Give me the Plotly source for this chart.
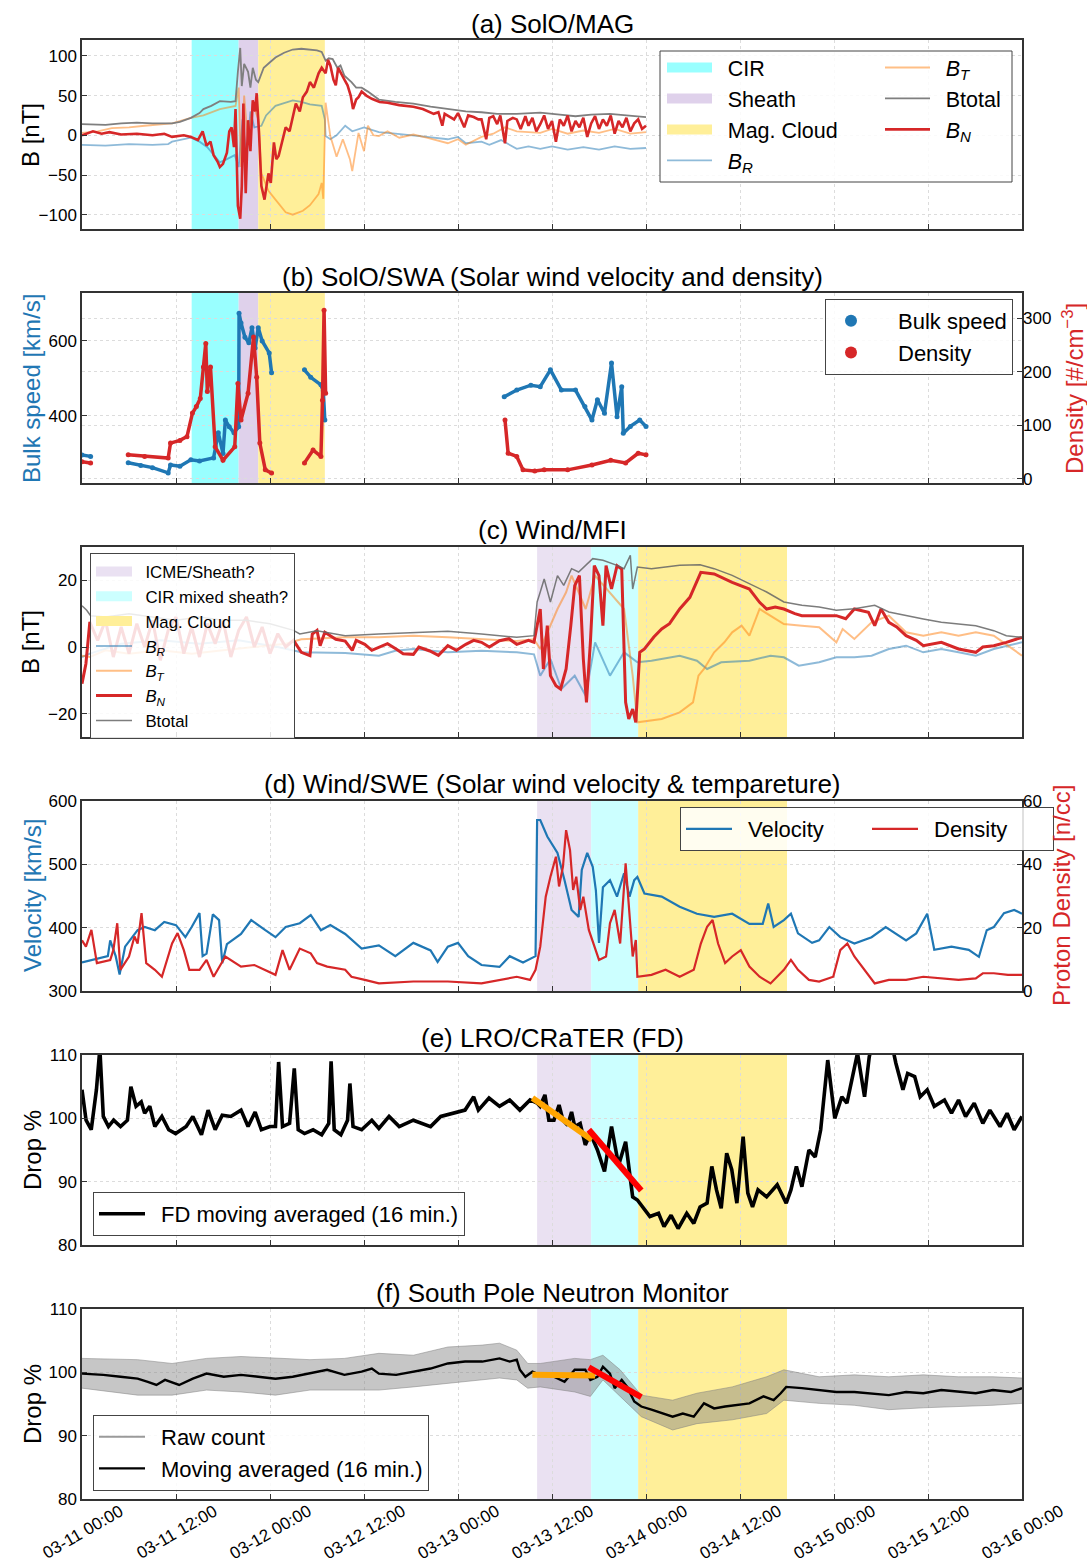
import pandas as pd
import plotly.graph_objects as go

W, H = 1087, 1562
T0 = pd.Timestamp("2025-03-11 00:00")
FONT = "Liberation Sans, Arial, sans-serif"

# ---------------- data: (hours since 03-11 00:00, value) ----------------
# (a) SolO/MAG [nT]
SOLO_BR = [(0,-12),(3,-13),(6,-11),(9,-12),(11,-11),(11.5,-8),(13.9,-3),(15,-8),(16,-15),(17.6,-34),(18.5,-30),
           (19.5,-25),(20,-40),(20.5,20),(21,-30),(21.5,30),(22,10),(22.9,12),(23.5,25),(24.7,37),(26.9,44),(28,42),
           (29.1,39),(30.6,37),(31,20),(31.1,-1),(31.7,-5),(32.5,0),(33.6,12),(34.5,5),(36,10),(37.9,4),(40,2),
           (42.3,0),(44,-2),(46.7,-5),(48,-2),(49,-10),(51,-8),(52,-12),(53.5,-6),(55.5,-17),(57,-14),(58.5,-17),
           (60,-14),(62,-18),(64,-15),(66,-18),(68,-14),(70,-17),(72,-16)]
SOLO_BT = [(0,3),(2,5),(3.8,9),(6,10),(8,12),(11.5,15),(13.9,22),(15.5,25),(17.6,33),(19.6,37),(20,60),(20.3,-40),
           (20.7,50),(21.2,-10),(21.8,40),(22.5,20),(22.9,-48),(23.8,-70),(24.7,-81),(26,-97),(26.9,-100),(28.2,-95),
           (29.1,-88),(30.2,-74),(30.6,-60),(30.8,-80),(31.1,41),(31.7,-1),(32.5,-27),(33.3,-5),(34.2,-30),(34.5,-45),
           (35.3,3),(36,-20),(36.5,12),(37.2,0),(37.9,-1),(39,5),(40.5,-3),(42.3,1),(44,-3),(46.7,-10),(48,-5),
           (49,-12),(51,-2),(52.5,2),(54,10),(55.5,5),(58.5,3),(60,8),(62,2),(64,6),(66,3),(68,8),(70,2),(72,4)]
SOLO_BTOT = [(0,14),(3,13),(5,15),(7,16),(9,15),(11.5,15),(12.5,17),(13.9,22),(15,28),(15.5,33),(16.5,37),(17.6,43),
             (19,42),(19.6,43),(19.9,80),(20.2,110),(20.4,62),(20.7,90),(21.2,80),(21.5,60),(21.8,85),(22.2,70),
             (22.5,67),(23.2,85),(24,92),(24.7,98),(25.8,104),(26.9,108),(28,109),(29.1,108),(30,107),(30.6,105),
             (31.1,94),(31.5,97),(32,96),(32.6,85),(33,88),(33.5,75),(34.4,67),(35,60),(35.7,60),(36.5,55),(37.9,45),
             (40,42),(42.3,40),(44.5,36),(46.7,33),(49,30),(51,29),(53,27),(55.5,27),(58.5,28.5),(61,26),(63,24),
             (65,26),(67.4,27),(69.5,25),(71.8,23.5),(72,23)]
SOLO_BN = [(0,0),(0.7,3),(1.4,5),(2.5,2),(3.5,4),(5,1),(7,2),(9,0),(10.5,2),(11.5,-2),(13,0),(13.9,-2),(14.8,-6),
           (15.4,5),(15.9,-13),(16.4,-8),(16.8,-25),(17.3,-33),(17.6,-40),(18,-36),(18.5,-22),(18.8,5),(19.1,10),
           (19.4,-15),(19.6,33),(19.9,-89),(20.2,-105),(20.4,-64),(20.6,40),(20.9,-73),(21.2,19),(21.5,-20),(21.8,44),
           (22.1,30),(22.3,53),(22.6,3),(22.9,-64),(23.3,-81),(23.8,-48),(24.1,-60),(24.5,-9),(24.8,-30),(25.1,-26),
           (25.5,-10),(26,10),(26.5,5),(27.3,40),(27.8,30),(28.2,48),(28.7,55),(29.1,67),(29.6,60),(30.2,78),
           (30.6,85),(31.1,78),(31.4,95),(31.7,88),(32.1,70),(32.4,63),(32.7,85),(33,80),(33.5,70),(33.9,63),
           (34.3,50),(34.6,33),(35,45),(35.3,48),(35.7,55),(36.3,50),(37,46),(38,42),(39,41),(40.5,38),(42.3,36),
           (43.5,33),(44.9,27),(45.5,29),(46,12),(46.3,27),(46.7,25),(47.5,20),(48,28),(48.8,10),(49.3,25),(50,23),
           (50.6,20),(51,20),(51.6,-5),(52,22),(52.5,24),(53,14),(53.4,25),(54,-10),(54.3,18),(55,22),(55.5,20),
           (56,8),(56.6,24),(57,12),(57.5,22),(58,5),(58.5,14),(59,25),(59.5,8),(60,18),(60.5,-8),(61,20),(61.5,12),
           (62,25),(62.5,5),(63,18),(63.5,10),(64,22),(64.5,-2),(65,15),(65.5,24),(66,8),(66.5,20),(67,12),(67.5,25),
           (68,2),(68.5,18),(69,10),(69.5,22),(70,5),(70.5,15),(71,20),(71.5,8),(72,12)]

# (b) SolO/SWA: bulk speed [km/s], density [#/cm^3]; None = data gap
SOLO_V = [(0,296),(1.1,292),None,(5.9,275),(7.5,268),(9,262),(11,248),(11.3,269),(12.5,266),(13.9,283),(15,280),
          (16.8,288),(17.4,355),(18,300),(18.3,389),(18.8,371),(19.4,355),(20,371),(20.05,674),(20.3,648),(20.8,610),
          (21.3,595),(21.7,635),(22.1,581),(22.5,635),(23,600),(23.9,568),(24.2,515),None,(28.4,523),(29.2,503),
          (30.5,483),(30.8,467),(31,389),None,(53.9,451),(55.5,469),(57.3,482),(58.5,478),(59.8,523),(61.2,469),
          (63,469),(64.2,425),(65.1,389),(65.8,443),(66.7,407),(67.6,541),(68.3,398),(68.9,478),(69.1,354),(70,372),
          (71.2,389),(72,372)]
SOLO_N = [(0,32),(1.1,30),None,(5.9,45),(8,42),(11,39),(11.3,67),(12.5,72),(13.4,79),(14.1,123),(14.6,135),
          (15.1,150),(15.5,209),(15.8,253),(16,163),(16.4,209),(17,60),(18,35),(19.5,60),(19.9,178),(20.3,110),
          (21.2,160),(21.9,265),(22.3,190),(22.7,67),(23.4,17),(24.2,11),None,(28.4,30),(29.5,54),(30.5,42),
          (30.7,147),(30.9,315),(31.1,160),None,(54,110),(54.4,48),(55.5,42),(56.3,17),(57.8,15),(59,17),(62,17),
          (65.1,26),(67.5,35),(69.4,30),(71,48),(72,45)]

# (c) Wind/MFI [nT]
WIND_BR = [(0,-3),(1,-2),(5,1),(10,2),(15,1),(20,2),(25,0),(28,-1.6),(33.6,-1.8),(37.9,-2.6),(40,-1.1),(42.3,-0.6),
           (46.7,-1.6),(51,-1.1),(55.5,-1.6),(57.7,-2.2),(58.5,-8.6),(59.8,-3.6),(61.2,-12.6),(62.9,-8.6),
           (64.3,-14.6),(65.5,1.4),(67.4,-8.6),(69.2,-1.6),(70.9,-4.6),(72.7,-4.1),(76.3,-2.6),(78.5,-4.1),
           (79.8,-6.6),(81.6,-4.6),(85.2,-4.1),(87.9,-2.6),(89.6,-3.1),(91.5,-5.6),(94.1,-4.6),(96.3,-3.1),
           (98.6,-3.1),(100.8,-2.6),(103,-0.6),(105.2,0.4),(107.4,-1.6),(109.7,-0.6),(111.9,-1.6),(114.1,-2.6),
           (116.4,-0.6),(120,1.4)]
WIND_BT = [(0,-2.6),(1,-3),(3,-1),(6,-2),(10,-1),(14,-2),(18,-1),(22,0),(26,1),(28,2.3),(33.6,2.9),(37.9,2.9),
           (42.3,3.4),(46.7,2.9),(51,2.3),(55.5,1.8),(57.7,2.3),(58.5,-0.6),(60.7,11.4),(61.8,16.4),(62.5,21.4),
           (64.3,11.4),(65.5,21.4),(67.4,16.4),(69.2,11.4),(70.3,-8.6),(70.9,-22.6),(74,-21.6),(76.3,-19.6),
           (78,-16.6),(78.7,-8.6),(79.4,-6.6),(80.7,-1.6),(82,1.4),(83,4.4),(84.2,6.4),(85.2,3.4),(86.5,11.4),
           (87.9,9.4),(89.6,6.9),(91.9,6.4),(94.1,5.9),(96.3,1.4),(97.1,5.4),(98.6,2.4),(100.8,7.4),(103,9.4),
           (105.2,4.4),(107.4,3.4),(109.7,4.4),(111.9,3.4),(114.1,4.4),(116.4,3.4),(120,-2.6)]
WIND_BN = [(0,-11),(0.5,-5),(1,7.5),(2,2),(3,8),(4,-3),(5,6),(6,-2),(7,7),(8,0),(9,8),(10,-4),(11,5),(12,9),
           (13,-2),(14,6),(15,-3),(16,7),(17,1),(18,8),(19,-3),(20,5),(21,9),(22,0),(23,6),(24,-2),(25,4),(26,0),
           (27,2),(28,-1.6),(29.1,-2.6),(29.4,3.9),(30,5),(30.4,0.4),(31,4.4),(32.4,2.3),(33.6,1.8),(34.5,-1),
           (35,2),(36.1,0.8),(37,-1),(37.9,-0.2),(39,1),(40.1,-0.6),(41,-2),(42.3,-2.2),(43,0),(44.4,-1.2),
           (45.5,-2.5),(46.7,0.4),(47.8,-1),(49,0.8),(50,2),(51,1.4),(52,0),(53.3,1.9),(54.5,2.5),(55.5,0.8),
           (57,2),(57.7,1.4),(58.5,11.4),(58.9,-6.6),(59.4,6.4),(59.8,-8.6),(60.5,-11.6),(61.1,-12.6),(61.8,-6.6),
           (62.4,6.4),(62.9,18.4),(63.5,21.4),(64,-3.6),(64.4,-16.6),(64.9,1.4),(65.4,24.4),(66,21.4),(66.5,6.4),
           (66.9,24.4),(67.6,17.4),(68.3,24.4),(68.9,23.4),(69.4,-16.6),(69.8,-21.6),(70.3,-18.6),(70.7,-22.6),
           (71.2,-1.6),(71.8,-0.6),(73,3),(74,5.4),(75,7),(76.3,11.4),(77.6,14.9),(79,22.4),(80.7,21.9),(83,19.4),
           (85.2,17.4),(86.5,13.4),(87.4,11.4),(88.5,12),(89.6,11.4),(91,10),(91.9,9.4),(94.1,9.4),(96.3,9.4),
           (97.5,8.5),(98.6,11.4),(100.4,10.4),(101.2,6.4),(102,11.4),(103,7.4),(104,6),(105.2,3.4),(106.5,2),
           (107.4,0.4),(109.7,1.4),(111.9,-0.6),(114.1,-1.6),(115,0),(116.4,0.4),(118,1.4),(120,2.9)]
WIND_BTOT = [(0,12.4),(0.6,11),(1.1,9.4),(3,9),(6,10),(9,9),(12,8),(15,9),(18,8),(21,8),(24,7),(27,5),(27.8,3.9),
             (30,4.9),(31,4.5),(33.6,3.4),(37.9,3.9),(42.3,4.2),(46.7,4.7),(51,3.9),(55.5,2.9),(57.7,3.4),(58.1,13.5),
             (58.5,16.5),(59,20.4),(59.8,13.5),(60.7,21.4),(61.5,18.5),(62.5,23.5),(63.4,22.5),(64.3,24.5),(65.2,26.5),
             (66.5,26),(68.3,24.5),(69.2,23.5),(70,27.5),(70.3,17.4),(70.9,24),(72.7,23.5),(76.3,24.5),(78.9,24.7),
             (80.7,23.5),(83,21.5),(85.2,19),(87.4,16.5),(89.6,13.5),(91.9,12.5),(94.1,12),(96.3,11),(98.6,11.5),
             (101.2,12.5),(103,10.5),(105.2,9.4),(107.4,8.4),(109.7,7.4),(111.9,6.9),(114.1,6.4),(116.4,4.9),
             (118,3.4),(120,2.9)]

# (d) Wind/SWE: velocity [km/s], proton density [n/cc]
WIND_V = [(0,345),(1,348),(2.3,352),(3.3,355),(3.6,380),(4.3,355),(4.8,326),(5.5,370),(7.1,396),(8,401),(9.3,396),
          (10.5,409),(12,404),(13.2,385),(14,401),(15,423),(15.4,355),(15.9,359),(16.7,421),(17.5,412),(17.9,344),
          (18.5,374),(20.3,390),(21.6,412),(23.4,396),(24.7,385),(26,401),(27.8,407),(29.2,420),(30.5,396),
          (31.7,404),(33.6,390),(35.7,367),(37.9,372),(40,355),(42.3,376),(44.5,364),(45.4,346),(46.7,370),(48,376),
          (49.3,355),(51,341),(53.3,338),(54.6,355),(56.3,345),(57.9,355),(58.1,570),(58.5,570),(59.4,544),
          (60.7,518),(61.6,475),(62.5,428),(63.4,417),(63.8,491),(64.5,518),(65.2,496),(65.6,459),(66,376),
          (66.5,464),(67.4,475),(68.3,449),(69.2,486),(69.9,449),(70.5,475),(70.9,480),(71.8,454),(74,449),
          (76.3,433),(78.5,422),(80.7,417),(83,422),(85.2,406),(86.9,406),(87.6,438),(88.3,401),(89.6,412),
          (90.5,422),(91.4,391),(93.2,376),(94.1,380),(95.4,401),(96.8,385),(98.6,375),(100.8,385),(102.6,401),
          (105.2,380),(106.5,391),(107.9,422),(108.8,365),(111,370),(113.2,365),(114.5,354),(115.5,396),
          (116.4,401),(117.7,423),(119,428),(120,422)]
WIND_N = [(0,16),(0.5,14),(1.2,19.3),(1.9,8.8),(3.6,9.8),(4,12.9),(4.5,21.4),(4.9,6.7),(6,10.9),(6.7,17.2),(7.1,15),
          (7.6,24.6),(8.2,8.8),(9.3,6.7),(10.2,4.5),(11.5,15),(12.2,18.3),(13,12.9),(13.7,6.7),(15,6.7),(15.9,9.8),
          (16.8,4.5),(18.3,10.9),(20.3,7.7),(22,8.2),(23.4,6.7),(24.7,5.1),(25.6,12.9),(26.5,6.7),(27.8,13.4),
          (29.2,11.9),(30,8.8),(31.3,7.7),(33.6,6.7),(34.4,4.5),(36.1,3.5),(37.9,2.4),(42.3,3),(46.7,3),(51,2.4),
          (53.3,3.5),(55.5,4.5),(57.2,3.5),(57.9,6.7),(58.5,14),(59.2,29.8),(59.8,36.1),(60.5,42.4),(60.9,33),
          (61.4,39.3),(61.8,50.8),(62.3,44.5),(62.7,31.9),(63.1,36.1),(63.6,25.6),(64,29.8),(64.7,19.3),(65.4,14),
          (66,9.8),(66.9,10.9),(67.4,21.4),(68,25.6),(68.7,15),(69.4,40.3),(69.8,27.7),(70.3,10.9),(70.7,16.1),
          (70.9,4.5),(72.7,5.1),(74.5,6.7),(76.3,4.5),(78.1,6.7),(79,15),(79.8,20.3),(80.5,22.4),(81.2,15),
          (82.1,8.8),(83,10.9),(84.1,12.9),(85.2,7.7),(86.5,4.5),(87.9,2.4),(89.6,6.7),(90.5,9.8),(91.4,6.7),
          (92.8,3.5),(94.1,3),(95.9,4.5),(96.8,12.9),(97.7,15),(98.6,10.9),(99.9,6.7),(101.2,2.4),(103,3.5),
          (105.2,3.5),(107.4,4.5),(109.7,4),(111.9,3.5),(114.1,4),(115,5.6),(116.4,5.6),(118.2,5.1),(120,5.1)]

# (e) LRO/CRaTER FD [%]
CRATER = [(0,104.5),(0.52,99.7),(1.18,98.2),(1.84,104.5),(2.28,111),(2.72,100.3),(3.38,98.7),(4.04,99.7),(4.92,98.7),
          (5.8,99.7),(6.24,105),(6.9,101.9),(7.56,102.6),(8,100.8),(8.65,101.9),(9.3,98.7),(10.2,100.3),(11.07,98.2),
          (11.95,97.6),(13.3,98.7),(14.15,100.3),(15.25,97.4),(16.1,101.3),(17,98.2),(17.9,100.5),(19,100.3),
          (20.3,101.3),(21.2,98.7),(22.1,101),(22.9,98.2),(24,98.7),(24.7,98.7),(25.1,108.9),(25.6,98.7),
          (26.5,99.2),(27.1,107.9),(27.6,98.2),(28.4,97.6),(29.5,98.2),(30.6,97.4),(31.5,99.2),(31.8,109),(32.2,98.2),
          (33.05,97.4),(33.9,99.7),(34.2,105.5),(34.6,98.7),(35.7,98.2),(37,99.7),(37.9,98.4),(39.2,100.3),(40.5,98.7),
          (42.3,99.7),(44.5,98.7),(45.8,100.3),(47.6,100.8),(48.9,101.3),(50,103.4),(50.6,101.3),(51.96,103.2),
          (53.3,101.9),(54.6,102.9),(55.9,101.3),(57.2,102.9),(58.1,102.4),(58.47,101.9),(59.1,103.7),(59.6,99.7),
          (60.25,99.7),(60.9,102.1),(61.4,99.7),(62,98.9),(62.5,101),(62.9,98.7),(63.6,99.2),(64.25,95.8),(64.9,97.6),
          (65.8,95),(66.7,91.6),(67.6,98.7),(68.5,92.6),(69.4,96.3),(70.3,87.6),(70.9,87.1),(71.6,86),(72.5,84.5),
          (73.6,85),(74.3,82.9),(75.2,84.7),(76.1,82.6),(77.2,85),(78.1,83.4),(78.9,86),(79.8,86.6),(80.4,92.4),
          (81,88.7),(81.6,85.8),(82.3,94.5),(82.95,91.9),(83.6,86.6),(84.4,97.1),(85,88.2),(85.6,86),(86.3,88.7),
          (87.4,87.6),(88.75,89.5),(89.9,86.6),(90.5,88.7),(91.2,92.4),(91.9,89.2),(92.8,95),(93.6,93.9),(94.3,98.2),
          (95.2,109.2),(96.1,100),(97,103.4),(97.65,102.4),(98.5,107.1),(99,110.3),(99.9,103.4),(100.5,109.7),
          (101,112.4),(102.2,116),(103.45,111.3),(103.9,108.7),(104.8,104.5),(105.4,107.1),(106.3,106.6),(107,103.4),
          (107.9,104.5),(108.8,101.9),(110.1,102.9),(111,100.8),(111.9,102.9),(112.8,100.3),(113.9,102.4),(115,99.2),
          (115.9,101.3),(117.2,98.7),(118.1,100.8),(119,98.2),(120,100.3)]
CRATER_FIT1 = [(57.5,103.2),(65.1,96.6)]   # orange fit
CRATER_FIT2 = [(64.7,98.2),(71.4,88.6)]    # red fit

# (f) South Pole NM [%]
SPNM_MA = [(0,99.8),(2.72,99.6),(4.92,99.3),(7.1,99),(8.4,98.5),(9.5,98),(10.6,98.8),(12.4,98),(14.15,99),(15.9,99.8),
           (18.1,99.3),(20.3,99.6),(22.5,99.3),(24.7,99),(26.9,99.3),(29.1,99.8),(31.3,100.4),(33.5,99.6),(35.7,100.1),
           (37,100.6),(37.9,99.8),(40.1,99.6),(42.3,100.1),(44.5,100.6),(46.7,101.4),(48.9,101.7),(51.1,101.7),
           (53.3,102.2),(54.6,101.7),(55.5,102),(55.9,100.4),(56.6,99.3),(57.5,100.1),(58.1,99.8),(58.5,99.8),
           (60.25,99.3),(61.6,98.5),(62.9,100.4),(64.25,100.4),(64.9,98.8),(65.8,99.3),(66.5,100.9),(67.4,99.8),
           (68,97.5),(68.9,98.8),(69.6,97.7),(70.5,95.4),(71.4,94.6),(72.7,94.1),(74.05,93.5),(75.4,93),(76.7,93.5),
           (78.1,93),(79.4,95.1),(80.7,94.3),(82.1,94.6),(83.4,94.8),(85.2,95.1),(87,96.2),(88.3,95.6),(89.2,96.7),
           (89.9,97.7),(91.9,97.5),(94.1,97.2),(96.3,96.9),(98.6,96.9),(100.8,96.7),(103,96.4),(105.2,96.9),
           (107.4,96.7),(109.7,97.2),(111.9,96.9),(114.1,96.7),(116.3,97.2),(118.6,96.9),(120,97.5)]
SPNM_RAW_HI = [(0,102.2),(7.1,102),(11.5,101.4),(15.9,102.2),(20.3,102.5),(24.7,102.2),(29.1,102),(33.5,102.2),
               (37.9,103),(42.3,102.7),(46.7,104),(51.1,104.3),(53.3,104.6),(55.5,103.5),(56.9,101.4),(58.5,101.4),
               (62.9,102.2),(64.9,102),(66.5,102.7),(68.7,100.4),(71.4,96.4),(75.4,95.6),(78.5,96.7),(83,97.7),
               (87.4,99.3),(89.6,100.4),(94.1,99.3),(98.6,99.6),(103,99.3),(107.4,99.6),(111.9,99.3),(116.3,99.3),
               (120,99.1)]
SPNM_RAW_LO = [(0,97.5),(7.1,96.4),(11.5,96.4),(15.9,97.2),(20.3,96.9),(24.7,96.4),(29.1,97.2),(33.5,97.2),
               (37.9,97.2),(42.3,97.7),(46.7,98.3),(51.1,98.8),(53.3,99.1),(55.5,98.8),(56.9,97.5),(58.5,97.7),
               (62.9,96.9),(64.9,96.2),(66.5,98.8),(68.7,96.2),(71.4,93),(75.4,90.9),(78.5,91.9),(83,92.5),
               (87.4,93.5),(89.6,95.6),(94.1,95.1),(98.6,94.8),(103,94.1),(107.4,94.4),(111.9,94.6),(116.3,94.8),
               (120,95.1)]
SPNM_FIT1 = [(57.5,99.6),(65.5,99.5)]
SPNM_FIT2 = [(64.7,100.8),(71.4,96.1)]

# event intervals (hours)
SOLO_EVENTS = [("CIR", 14.0, 20.0), ("Sheath", 20.0, 22.5), ("Mag. Cloud", 22.5, 31.0)]
WIND_EVENTS = [("ICME/Sheath?", 58.1, 65.0), ("CIR mixed sheath?", 65.0, 71.0), ("Mag. Cloud", 71.0, 90.0)]

TICK_HOURS = list(range(0, 121, 12))

# ---------------- helpers ----------------
def tt(h):
    return T0 + pd.Timedelta(hours=h)

def unzip(pairs):
    xs, ys = [], []
    for p in pairs:
        if p is None:
            xs.append(None); ys.append(None)
        else:
            xs.append(tt(p[0])); ys.append(p[1])
    return xs, ys

def PX(x): return x / W
def PY(y): return 1 - y / H

SP = "\u2002"  # gap between legend glyph and text (matplotlib handletextpad)
BLUE, ORANGE, RED, GRAY = "#1f77b4", "#ff7f0e", "#d62728", "#7f7f7f"
LINEC = "#333333"
GRIDC = "#dcdcdc"

fig = go.Figure()

PANELS = [(40, 229), (293, 483), (547, 737), (801, 991), (1055, 1245), (1309, 1499)]
YR = [(-118, 120), (221, 728), (-27, 30), (300, 600), (80, 110), (80, 110)]
YT = [[-100, -50, 0, 50, 100], [400, 600], [-20, 0, 20], [300, 400, 500, 600], [80, 90, 100, 110], [80, 90, 100, 110]]

def ax(i): return ("x" if i == 1 else f"x{i}"), ("y" if i == 1 else f"y{i}")

def line(pairs, i, name, color, width, opacity=1.0, legend=None, yaxis=None):
    xs, ys = unzip(pairs)
    xa, ya = ax(i)
    fig.add_trace(go.Scatter(x=xs, y=ys, mode="lines", name=SP + name, xaxis=xa, yaxis=yaxis or ya,
                             line=dict(color=color, width=width), opacity=opacity,
                             showlegend=legend is not None, legend=legend or "legend"))

def legend_only(i, name, legend, **kw):
    xa, ya = ax(i)
    fig.add_trace(go.Scatter(x=[None], y=[None], name=SP + name, xaxis=xa, yaxis=ya, legend=legend,
                             showlegend=True, **kw))

# shaded spans
SOLO_COL = {"CIR": "#99ffff", "Sheath": "#dfd1eb", "Mag. Cloud": "#ffef99"}
WIND_COL = {"ICME/Sheath?": "#eae1f2", "CIR mixed sheath?": "#ccffff", "Mag. Cloud": "#ffef99"}
for i in (1, 2):
    xa, ya = ax(i)
    for nm, a, b in SOLO_EVENTS:
        fig.add_shape(type="rect", xref=xa, yref=ya + " domain", x0=tt(a), x1=tt(b), y0=0, y1=1,
                      fillcolor=SOLO_COL[nm], line=dict(width=0), layer="below")
for i in (3, 4, 5, 6):
    xa, ya = ax(i)
    for nm, a, b in WIND_EVENTS:
        fig.add_shape(type="rect", xref=xa, yref=ya + " domain", x0=tt(a), x1=tt(b), y0=0, y1=1,
                      fillcolor=WIND_COL[nm], line=dict(width=0), layer="below")

BR = "<i>B</i><sub><i>R</i></sub>"
BT = "<i>B</i><sub><i>T</i></sub>"
BN = "<i>B</i><sub><i>N</i></sub>"

# ---- (a)
for nm, a, b in SOLO_EVENTS:
    legend_only(1, nm, "legend", mode="lines", line=dict(color=SOLO_COL[nm], width=10))
line(SOLO_BR, 1, BR, BLUE, 1.8, 0.5, legend="legend")
line(SOLO_BT, 1, BT, ORANGE, 1.8, 0.5, legend="legend2")
line(SOLO_BTOT, 1, "Btotal", GRAY, 1.8, 1.0, legend="legend2")
line(SOLO_BN, 1, BN, RED, 2.6, 1.0, legend="legend2")

# ---- (b)
for pairs, col, yx in ((SOLO_V, BLUE, "y2"), (SOLO_N, RED, "y7")):
    xs, ys = unzip(pairs)
    fig.add_trace(go.Scatter(x=xs, y=ys, mode="lines+markers", xaxis="x2", yaxis=yx, showlegend=False,
                             line=dict(color=col, width=3.5), marker=dict(color=col, size=5)))
legend_only(2, SP + "Bulk speed", "legend3", mode="markers", marker=dict(color=BLUE, size=12))
legend_only(2, SP + "Density", "legend3", mode="markers", marker=dict(color=RED, size=12))

# ---- (c)
for nm, a, b in WIND_EVENTS:
    legend_only(3, nm, "legend4", mode="lines", line=dict(color=WIND_COL[nm], width=10))
line(WIND_BR, 3, BR, BLUE, 2, 0.5, legend="legend4")
line(WIND_BT, 3, BT, ORANGE, 2, 0.5, legend="legend4")
line(WIND_BN, 3, BN, RED, 3, 1.0, legend="legend4")
line(WIND_BTOT, 3, "Btotal", "#666666", 1.5, 0.85, legend="legend4")

# ---- (d)
line(WIND_V, 4, "Velocity", BLUE, 2.2, legend="legend5")
line(WIND_N, 4, "Density", RED, 2.2, legend="legend5", yaxis="y8")

# ---- (e)
line(CRATER, 5, "FD moving averaged (16 min.)", "black", 3.6, legend="legend6")
line(CRATER_FIT1, 5, "", "orange", 6)
line(CRATER_FIT2, 5, "", "red", 6)

# ---- (f)
xs, ys = unzip(SPNM_RAW_HI)
fig.add_trace(go.Scatter(x=xs, y=ys, mode="lines", xaxis="x6", yaxis="y6", showlegend=False,
                         line=dict(color="rgba(128,128,128,0.5)", width=1)))
xs, ys = unzip(SPNM_RAW_LO)
fig.add_trace(go.Scatter(x=xs, y=ys, mode="lines", xaxis="x6", yaxis="y6", showlegend=False, fill="tonexty",
                         fillcolor="rgba(128,128,128,0.45)", line=dict(color="rgba(128,128,128,0.5)", width=1)))
legend_only(6, "Raw count", "legend7", mode="lines", line=dict(color="#9a9a9a", width=2))
line(SPNM_MA, 6, "Moving averaged (16 min.)", "black", 2.4, legend="legend7")
line(SPNM_FIT1, 6, "", "orange", 6)
line(SPNM_FIT2, 6, "", "red", 6)

# ---------------- axes ----------------
layout = dict(width=W, height=H, margin=dict(l=0, r=0, t=0, b=0, pad=0, autoexpand=False),
              paper_bgcolor="white", plot_bgcolor="white",
              font=dict(family=FONT, size=17, color="black"))
for i, ((top, bot), yr, yt) in enumerate(zip(PANELS, YR, YT), start=1):
    xk = "xaxis" if i == 1 else f"xaxis{i}"
    yk = "yaxis" if i == 1 else f"yaxis{i}"
    xa, ya = ax(i)
    layout[xk] = dict(domain=[PX(82), PX(1022)], anchor=ya, type="date", range=[tt(0), tt(120)],
                      tickvals=[tt(h) for h in TICK_HOURS], showticklabels=False, ticks="inside", ticklen=5,
                      tickcolor=LINEC, showgrid=True, gridcolor=GRIDC, griddash="dot", gridwidth=1,
                      showline=True, linecolor=LINEC, linewidth=1.5, mirror=True, zeroline=False, automargin=False)
    layout[yk] = dict(domain=[PY(bot), PY(top)], anchor=xa, range=list(yr), tickvals=yt, ticks="inside",
                      ticklen=5, tickcolor=LINEC, showgrid=True, gridcolor=GRIDC, griddash="dot", gridwidth=1,
                      showline=True, linecolor=LINEC, linewidth=1.5, mirror=True, zeroline=False,
                      tickfont=dict(size=17), automargin=False)
layout["yaxis7"] = dict(overlaying="y2", anchor="x2", side="right", range=[-7.5, 347], tickvals=[0, 100, 200, 300],
                        ticks="inside", ticklen=5, tickcolor=LINEC, showgrid=True, gridcolor=GRIDC, griddash="dot",
                        showline=False, zeroline=False, tickfont=dict(size=17), automargin=False)
layout["yaxis8"] = dict(overlaying="y4", anchor="x4", side="right", range=[0, 60], tickvals=[0, 20, 40, 60],
                        ticks="inside", ticklen=5, tickcolor=LINEC, showgrid=False, showline=False, zeroline=False,
                        tickfont=dict(size=17), automargin=False)

LEGBASE = dict(xanchor="left", yanchor="top", font=dict(family=FONT, size=22, color="black"),
               bgcolor="rgba(255,255,255,0.85)", bordercolor="#444444", borderwidth=1, traceorder="normal")
layout["legend"] = dict(LEGBASE, x=PX(662), y=PY(47), bgcolor="rgba(0,0,0,0)", borderwidth=0, itemwidth=45,
                        font=dict(family=FONT, size=21.5, color="black"))
layout["legend2"] = dict(LEGBASE, x=PX(880), y=PY(47), bgcolor="rgba(0,0,0,0)", borderwidth=0, itemwidth=45,
                         font=dict(family=FONT, size=21.5, color="black"))
layout["legend3"] = dict(LEGBASE, x=PX(825), y=PY(299), itemwidth=40)
layout["legend4"] = dict(LEGBASE, x=PX(90), y=PY(553), font=dict(family=FONT, size=16.8, color="black"),
                         itemwidth=36)
layout["legend5"] = dict(LEGBASE, x=PX(680), y=PY(807), orientation="h", itemwidth=46, entrywidth=125)
layout["legend6"] = dict(LEGBASE, x=PX(93), y=PY(1192), itemwidth=46)
layout["legend7"] = dict(LEGBASE, x=PX(93), y=PY(1415), itemwidth=46)
fig.update_layout(**layout)

# legend box for (a)
fig.add_shape(type="rect", xref="paper", yref="paper", x0=PX(660), x1=PX(1012), y0=PY(182), y1=PY(51),
              fillcolor="rgba(255,255,255,0.85)", line=dict(color="#444444", width=1), layer="above")

# titles
TITLES = ["(a) SolO/MAG", "(b) SolO/SWA (Solar wind velocity and density)", "(c) Wind/MFI",
          "(d) Wind/SWE (Solar wind velocity & tempareture)", "(e) LRO/CRaTER (FD)", "(f) South Pole Neutron Monitor"]
TITLE_Y = [24, 277, 530, 784, 1038, 1293]
for t, y in zip(TITLES, TITLE_Y):
    fig.add_annotation(text=t, x=PX(552), y=PY(y), xref="paper", yref="paper", showarrow=False,
                       xanchor="center", yanchor="middle", font=dict(size=26, family=FONT, color="black"))

# y labels
YLAB = [("B [nT]", 31, 135, "black"), ("Bulk speed [km/s]", 32, 389, BLUE), ("B [nT]", 31, 642, "black"),
        ("Velocity [km/s]", 32, 896, BLUE), ("Drop %", 32, 1150, "black"), ("Drop %", 32, 1404, "black"),
        ("Density [#/cm<sup>\u22123</sup>]", 1073, 389, RED), ("Proton Density [n/cc]", 1061, 896, RED)]
for t, x, y, c in YLAB:
    fig.add_annotation(text=t, x=PX(x), y=PY(y), xref="paper", yref="paper", showarrow=False, textangle=-90,
                       xanchor="center", yanchor="middle", font=dict(size=24, family=FONT, color=c))

# bottom tick labels (rotated, centred on ticks)
for h in TICK_HOURS:
    fig.add_annotation(text=tt(h).strftime("%m-%d %H:%M"), x=tt(h), xref="x6", y=PY(1532), yref="paper",
                       showarrow=False, textangle=-30, xanchor="center", yanchor="middle",
                       font=dict(size=17, family=FONT, color="black"))

fig.write_html("out.html", config={"displayModeBar": False},
               post_script="document.body.style.margin='0px';")
